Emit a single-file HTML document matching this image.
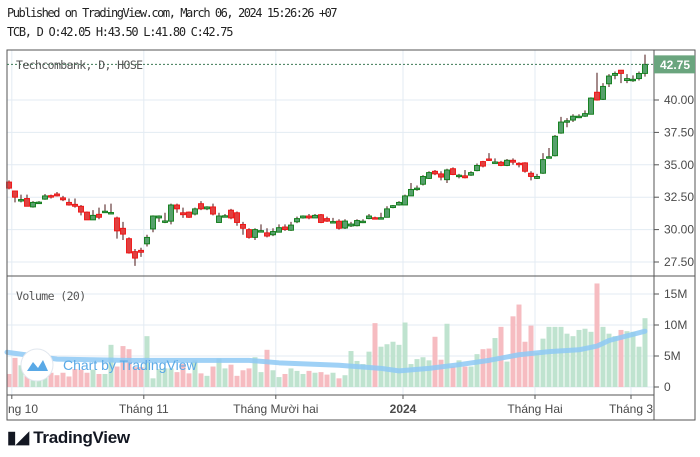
<!DOCTYPE html>
<html><head><meta charset="utf-8"><style>
body{margin:0;background:#fff;width:700px;height:457px;overflow:hidden;position:relative;font-family:"Liberation Sans",sans-serif}
.mono{font-family:"DejaVu Sans Mono","Liberation Mono",monospace}
</style></head><body>
<div class="mono" style="position:absolute;left:7px;top:6px;font-size:12px;letter-spacing:-1.45px;color:#222">Published on TradingView.com, March 06, 2024 15:26:26 +07</div>
<div class="mono" style="position:absolute;left:7px;top:25px;font-size:12px;letter-spacing:-1.3px;color:#222">TCB, D O:42.05 H:43.50 L:41.80 C:42.75</div>
<svg id="chart" width="700" height="457" style="position:absolute;left:0;top:0" xmlns="http://www.w3.org/2000/svg">
<g id="grid"></g><g id="vol"></g><g id="ma"></g><g id="candles"></g><g id="axes"></g>
</svg>
<div style="position:absolute;left:7px;top:428px;font-size:17px;font-weight:bold;color:#131722;letter-spacing:-0.3px">▮◢ TradingView</div>
<script>
const opens=[33.67,32.98,32.3,32.4,31.75,32.1,32.35,32.62,32.75,32.45,32.1,31.95,31.8,31.35,30.75,31.18,31.4,31.3,30.9,30.1,29.3,28.3,28.4,28.9,30.05,30.9,30.65,30.65,31.9,31.3,31.35,31.2,32.0,31.6,31.75,30.55,31.05,31.5,31.3,30.4,30.0,29.4,29.9,29.75,29.6,29.8,30.2,29.95,30.6,30.9,31.05,30.9,31.15,30.85,30.6,30.65,30.12,30.28,30.3,30.55,30.85,30.92,30.9,30.95,31.7,31.9,31.9,32.6,33.1,33.5,33.95,34.5,34.3,33.85,34.7,34.1,34.15,34.2,34.55,35.25,35.45,35.2,35.2,34.95,35.35,35.12,35.15,34.35,33.95,34.35,35.6,35.7,37.45,38.38,38.45,38.72,38.75,38.9,40.6,40.05,41.25,41.9,42.3,41.5,41.58,41.65,42.05];
const closes=[33.2,32.5,32.32,31.8,32.1,32.12,32.6,32.58,32.6,32.3,31.9,31.8,31.35,30.75,31.1,30.95,31.42,31.32,29.9,29.65,28.2,27.8,28.25,29.4,31.05,31.05,30.67,31.9,31.6,31.15,30.95,31.6,31.6,31.75,31.2,31.05,31.07,30.9,30.55,30.1,29.4,30.0,29.92,29.5,29.85,30.15,30.0,30.35,30.85,31.05,30.9,31.1,30.55,30.65,30.62,30.1,30.66,30.43,30.7,30.65,31.05,30.9,30.92,31.6,31.85,32.1,32.6,33.1,33.2,34.1,34.4,34.3,34.05,34.6,34.25,34.2,34.0,34.4,34.95,34.9,35.35,35.22,34.95,35.35,35.2,35.1,34.5,34.1,34.1,35.4,35.62,37.2,38.3,38.4,38.75,38.75,38.95,40.15,40.0,41.05,41.85,42.05,42.05,41.65,41.6,42.05,42.75];
const highs=[33.8,33.0,32.7,32.7,32.2,32.2,32.75,32.7,32.9,32.6,32.4,32.4,31.9,31.4,31.5,31.7,31.95,32.0,31.0,30.6,29.4,28.5,28.6,29.6,31.1,31.1,31.3,32.0,32.0,31.7,31.4,31.7,32.2,31.8,32.0,31.3,31.2,31.6,31.4,30.6,30.1,30.1,30.4,30.1,30.1,30.4,30.4,30.6,31.0,31.1,31.2,31.2,31.2,31.0,30.9,30.8,30.8,30.6,30.8,30.8,31.2,31.0,31.3,31.8,31.9,32.2,32.7,33.6,33.4,34.2,34.5,34.6,34.5,34.7,34.8,34.3,34.6,34.5,35.1,35.3,35.9,35.5,35.3,35.45,35.5,35.2,35.2,34.5,34.3,35.9,36.3,37.3,38.7,38.6,38.9,38.9,39.2,40.2,42.1,41.3,42.0,42.2,42.3,42.0,41.9,42.2,43.5];
const lows=[33.1,32.1,32.1,31.8,31.7,32.0,32.3,32.4,32.55,32.2,31.85,31.7,31.1,30.75,30.75,30.8,31.3,31.2,29.3,29.2,28.15,27.2,27.9,28.7,29.8,30.6,30.5,30.4,31.3,30.9,30.9,31.1,31.5,31.5,31.1,30.55,31.0,30.8,30.3,29.6,29.3,29.2,29.8,29.4,29.5,29.8,29.9,29.9,30.5,30.85,30.8,30.9,30.5,30.6,30.5,30.0,30.05,30.2,30.25,30.5,30.8,30.85,30.85,30.95,31.65,31.85,31.9,32.6,33.0,33.4,33.9,34.2,33.8,33.6,34.2,33.95,33.95,34.15,34.5,34.8,35.3,35.1,34.9,34.9,35.0,34.8,34.4,33.8,33.9,34.3,35.55,35.65,37.4,37.9,38.3,38.6,38.7,38.9,39.95,40.0,41.0,41.6,41.3,41.3,41.4,41.5,41.8];
const volumes=[2.1,4.7,3.5,3.0,2.8,2.2,2.2,2.3,1.9,2.3,1.7,2.9,2.8,2.3,2.8,2.1,2.1,6.8,3.3,6.6,6.1,3.2,3.2,8.2,1.4,2.9,3.0,3.0,2.4,3.7,2.2,4.3,2.2,1.8,3.3,4.6,3.0,3.6,1.8,2.7,3.0,4.8,2.4,6.0,2.7,1.6,2.1,3.0,2.6,2.1,2.6,2.3,2.4,2.0,2.3,1.4,1.9,5.8,4.2,3.7,5.7,10.3,6.5,6.9,7.3,6.8,10.4,3.7,4.5,4.8,4.3,8.1,4.4,10.2,3.3,4.3,3.3,3.3,5.3,6.1,6.2,7.9,9.7,4.1,11.4,13.3,7.3,9.9,5.5,7.8,9.7,9.7,9.7,8.6,8.2,9.2,9.4,8.9,16.7,9.7,8.6,8.2,9.2,9.0,8.9,6.5,11.1];
const maIdx=[0,8,20,30,40,45,55,62,65,70,75,80,85,90,95,98,100,106];
const maVals=[5.6,4.5,4.3,4.3,4.3,3.9,3.5,3.0,2.6,3.0,3.6,4.3,5.2,5.7,6.0,6.6,7.5,9.0];
const priceTicks=[27.5,30,32.5,35,37.5,40];
const volTicks=[0,5,10,15];
const timeLabels=["ng 10","Tháng 11","Tháng Mười hai","2024","Tháng Hai","Tháng 3"];
const timeIdx=[0.3,22.3,44.3,65.5,87.5,103.5];

const NS="http://www.w3.org/2000/svg";
const X0=9,DX=6.0,L=7,R=654,T=50,PB=276,VB=395,B=420;
const xs=i=>X0+i*DX;
const py=p=>100+(40-p)*12.96;
const vy=v=>387-v*6.2;
function mk(tag,attrs,parent,name,inter){const e=document.createElementNS(NS,tag);for(const k in attrs)e.setAttribute(k,attrs[k]);


parent.appendChild(e);return e;}
const g=document.getElementById('grid'),gv=document.getElementById('vol'),gm=document.getElementById('ma'),gc=document.getElementById('candles'),ga=document.getElementById('axes');
timeIdx.forEach((ti,k)=>{const x=xs(ti)+1;mk('line',{x1:x,x2:x,y1:T,y2:VB,stroke:'#e3ebf3','stroke-width':1},g,'v-grid-line',false);});
priceTicks.forEach(p=>{mk('line',{x1:L,x2:R,y1:py(p),y2:py(p),stroke:'#e3ebf3'},g,'price-grid-line',false);
const t=mk('text',{x:R+10,y:py(p)+4,'font-size':12,fill:'#4a4a4a','font-family':'Liberation Sans'},ga,'price-tick-label',false);t.textContent=p.toFixed(2);
mk('line',{x1:R,x2:R+5,y1:py(p),y2:py(p),stroke:'#555'},ga,'price-tick',false);});
volTicks.forEach(v=>{mk('line',{x1:L,x2:R,y1:vy(v),y2:vy(v),stroke:'#e3ebf3'},g,'volume-grid-line',false);
const t=mk('text',{x:R+10,y:vy(v)+4,'font-size':12,fill:'#4a4a4a','font-family':'Liberation Sans'},ga,'volume-tick-label',false);t.textContent=v===0?'0':v+'M';
mk('line',{x1:R,x2:R+5,y1:vy(v),y2:vy(v),stroke:'#555'},ga,'volume-tick',false);});
volumes.forEach((v,i)=>{const up=closes[i]>=opens[i];
mk('rect',{x:xs(i)-2.5,y:vy(v),width:5,height:387-vy(v),fill:up?'#bfe3cf':'#f6bcc1'},gv,'volume-bar',false);});
let d='';maIdx.forEach((ix,k)=>{d+=(k?'L':'M')+(ix===0?L:xs(ix))+' '+vy(maVals[k]);});
mk('path',{d:d,fill:'none',stroke:'#8ec9f5','stroke-width':5,'stroke-linejoin':'round','stroke-linecap':'round',opacity:0.85},gm,'volume-ma-line',false);
opens.forEach((o,i)=>{const c=closes[i],up=c>=o,x=xs(i);
mk('line',{x1:x,x2:x,y1:py(highs[i]),y2:py(lows[i]),stroke:'#4a1414','stroke-width':1},gc,'candle-wick',false);
const top=py(Math.max(o,c)),h=Math.max(1.5,Math.abs(py(o)-py(c)));
mk('rect',{x:x-2.5,y:top,width:5,height:h,fill:up?'#56a06c':'#e04040',stroke:up?'#0b7a14':'#f01010','stroke-width':0.9},gc,up?'candle-up':'candle-down',false);});
mk('rect',{x:L,y:T,width:695-L,height:B-T,fill:'none',stroke:'#555','stroke-width':1},ga,'chart-frame',false);
mk('line',{x1:R,x2:R,y1:T,y2:B,stroke:'#555'},ga,'price-axis-line',false);
mk('line',{x1:L,x2:695,y1:PB,y2:PB,stroke:'#555'},ga,'pane-separator',false);
mk('line',{x1:L,x2:R,y1:VB,y2:VB,stroke:'#555'},ga,'time-axis-line',false);
timeLabels.forEach((s,k)=>{const x=xs(timeIdx[k])+1;
mk('line',{x1:x,x2:x,y1:VB,y2:VB+4,stroke:'#555'},ga,'time-tick',false);
const t=mk('text',{x:k===0?L+1:x,y:VB+18,'font-size':12,fill:'#4a4a4a','text-anchor':k===0?'start':'middle','font-weight':k===3?'bold':'normal','font-family':'Liberation Sans'},ga,'time-label',false);t.textContent=s;});
const lp=closes[closes.length-1];
mk('line',{x1:L,x2:R,y1:py(lp),y2:py(lp),stroke:'#3d7a55','stroke-dasharray':'2 2'},ga,'last-price-line',false);
mk('rect',{x:R,y:py(lp)-9,width:41,height:18,fill:'#6aa57e'},ga,'last-price-box',false);
const lt=mk('text',{x:R+6,y:py(lp)+4.5,'font-size':12,fill:'#fff','font-weight':'bold','font-family':'Liberation Sans'},ga,'last-price-label',false);lt.textContent=lp.toFixed(2);
const st=mk('text',{x:16,y:69,'font-size':11.5,fill:'#555','font-family':'DejaVu Sans Mono','letter-spacing':-0.6},ga,'symbol-title',false);st.textContent='Techcombank, D, HOSE';
const vt=mk('text',{x:16,y:300,'font-size':11.5,fill:'#555','font-family':'DejaVu Sans Mono','letter-spacing':-0.6},ga,'volume-title',false);vt.textContent='Volume (20)';
mk('circle',{cx:37,cy:365,r:16,fill:'#fff',stroke:'#e0e6ee'},ga,'watermark-icon',false);
mk('path',{d:'M27 371 L33 362 L38 368 L43 360 L48 371 Z',fill:'#5aa9e6'},ga,'watermark-icon-glyph',false);
const wt=mk('text',{x:63,y:370,'font-size':14,fill:'#5aa9e6','font-family':'Liberation Sans'},ga,'watermark-text',false);wt.textContent='Chart by TradingView';
</script>
</body></html>
